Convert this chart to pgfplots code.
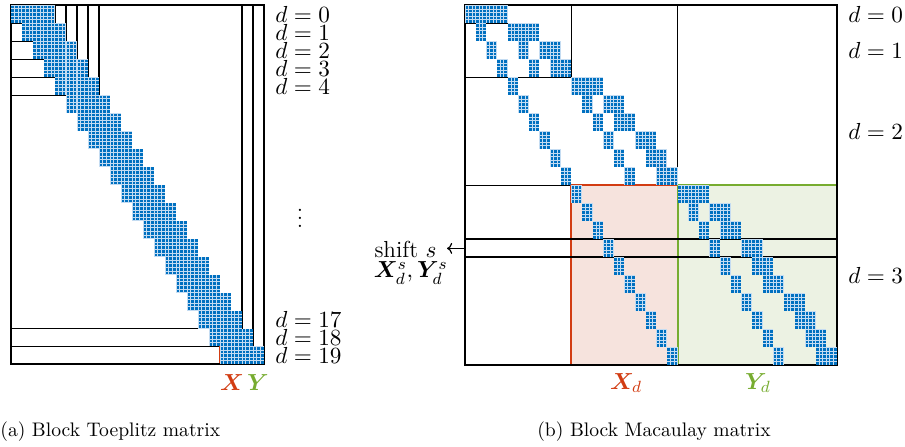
\RequirePackage{fix-cm}
\documentclass[border=0pt]{standalone}
\usepackage{amsmath,bm}
\usepackage{pgfplots}
\pgfplotsset{compat=1.18}
\usetikzlibrary{arrows.meta}

\definecolor{spyblue}{RGB}{0,112,192}
\definecolor{spylight}{RGB}{196,220,242}
\definecolor{xred}{RGB}{210,60,18}
\definecolor{ygreen}{RGB}{119,172,48}
\definecolor{xfill}{RGB}{246,227,221}
\definecolor{yfill}{RGB}{236,242,227}

% One nonzero sub-block of the spy plot, drawn from its top-left corner:
% a light cell holding a 3 x 5 grid of small filled squares.
\newcommand\cellgrid[4]{% cell width, cell height, square width, square height
  \pgfmathsetmacro\cw{#1}\pgfmathsetmacro\ch{#2}%
  \pgfsetfillcolor{spylight}%
  \pgfpathrectangle{\pgfpoint{0pt}{0pt}}{\pgfpoint{3*\cw pt}{-5*\ch pt}}%
  \pgfusepathqfill
  \pgfsetfillcolor{spyblue}%
  \foreach \i in {0,1,2}{\foreach \j in {0,...,4}{%
    \pgfpathrectangle{\pgfpoint{\i*\cw pt+0.25pt}{-\j*\ch pt-#4pt-0.25pt}}{\pgfpoint{#3pt}{#4pt}}%
    \pgfusepathqfill}}}
\pgfdeclareplotmark{cellA}{\cellgrid{1.8333}{1.795}{1.3333}{1.295}}
\pgfdeclareplotmark{cellB}{\cellgrid{1.7714}{1.8}{1.2714}{1.3}}

\pgfplotsset{
  spymat/.style={scale only axis, axis on top, clip=false,
    xtick=\empty, ytick=\empty, axis line style={line width=1pt},
    y dir=reverse, xmin=0, ymin=0, anchor=origin},
}
\tikzset{lbl/.style={font=\fontsize{11.6}{13}\selectfont},
  dl/.style={lbl, anchor=west, inner sep=0pt}}

\begin{document}
\begin{tikzpicture}[x=0.5pt,y=-0.5pt]
\useasboundingbox (0,0) rectangle (905,446);

% ---------- (a) block Toeplitz matrix ----------
\begin{axis}[spymat, at={(10,3)},
  x=5.5pt, y=8.975pt, xmax=23, ymax=20]
  \addplot[fill=xfill, draw=none] coordinates {(19,19) (22,19) (22,20) (19,20)} -- cycle;
  \addplot[fill=yfill, draw=none] coordinates {(22,19) (23,19) (23,20) (22,20)} -- cycle;
  \addplot[only marks, mark=cellA, color=spyblue, mark options={fill=spyblue}] coordinates {
    (0,0) (1,0) (2,0) (3,0)
    (1,1) (2,1) (3,1) (4,1)
    (2,2) (3,2) (4,2) (5,2)
    (3,3) (4,3) (5,3) (6,3)
    (4,4) (5,4) (6,4) (7,4)
    (5,5) (6,5) (7,5) (8,5)
    (6,6) (7,6) (8,6) (9,6)
    (7,7) (8,7) (9,7) (10,7)
    (8,8) (9,8) (10,8) (11,8)
    (9,9) (10,9) (11,9) (12,9)
    (10,10) (11,10) (12,10) (13,10)
    (11,11) (12,11) (13,11) (14,11)
    (12,12) (13,12) (14,12) (15,12)
    (13,13) (14,13) (15,13) (16,13)
    (14,14) (15,14) (16,14) (17,14)
    (15,15) (16,15) (17,15) (18,15)
    (16,16) (17,16) (18,16) (19,16)
    (17,17) (18,17) (19,17) (20,17)
    (18,18) (19,18) (20,18) (21,18)
    (19,19) (20,19) (21,19) (22,19)
  };
  % nested degree blocks
  \draw[line width=0.6pt] (axis cs:0,0) rectangle (axis cs:4,1);
  \draw[line width=0.6pt] (axis cs:0,0) rectangle (axis cs:5,2);
  \draw[line width=0.6pt] (axis cs:0,0) rectangle (axis cs:6,3);
  \draw[line width=0.6pt] (axis cs:0,0) rectangle (axis cs:7,4);
  \draw[line width=0.6pt] (axis cs:0,0) rectangle (axis cs:8,5);
  \draw[line width=0.6pt] (axis cs:0,0) rectangle (axis cs:21,18);
  \draw[line width=0.6pt] (axis cs:0,0) rectangle (axis cs:22,19);
  \draw[xred, line width=0.8pt] (axis cs:19,19) rectangle (axis cs:22,20);
  \draw[ygreen, line width=0.8pt] (axis cs:22,19) rectangle (axis cs:23,20);
  \node[dl, xshift=5.5pt] at (axis cs:23,0.5) {$d=0$};
  \node[dl, xshift=5.5pt] at (axis cs:23,1.5) {$d=1$};
  \node[dl, xshift=5.5pt] at (axis cs:23,2.5) {$d=2$};
  \node[dl, xshift=5.5pt] at (axis cs:23,3.5) {$d=3$};
  \node[dl, xshift=5.5pt] at (axis cs:23,4.5) {$d=4$};
  \node[dl, xshift=5.5pt] at (axis cs:23,17.5) {$d=17$};
  \node[dl, xshift=5.5pt] at (axis cs:23,18.5) {$d=18$};
  \node[dl, xshift=5.5pt] at (axis cs:23,19.5) {$d=19$};
\end{axis}
\node[lbl] at (300,212) {$\vdots$};
\node[lbl, text=xred] at (232,383) {$\bm{X}$};
\node[lbl, text=ygreen] at (258,383) {$\bm{Y}$};
\node[font=\fontsize{9.8}{12}\selectfont, anchor=west, inner sep=0pt] at (0,432) {(a) Block Toeplitz matrix};

% ---------- (b) block Macaulay matrix ----------
\begin{axis}[spymat, at={(437.5,3)},
  x=5.3143pt, y=9pt, xmax=35, ymax=20]
  \addplot[fill=xfill, draw=none] coordinates {(10,10) (20,10) (20,20) (10,20)} -- cycle;
  \addplot[fill=yfill, draw=none] coordinates {(20,10) (35,10) (35,20) (20,20)} -- cycle;
  \addplot[only marks, mark=cellB, color=spyblue, mark options={fill=spyblue}] coordinates {
    (0,0) (1,0) (2,0) (3,0)
    (1,1) (4,1) (5,1) (6,1)
    (2,2) (5,2) (7,2) (8,2)
    (3,3) (6,3) (8,3) (9,3)
    (4,4) (10,4) (11,4) (12,4)
    (5,5) (11,5) (13,5) (14,5)
    (6,6) (12,6) (14,6) (15,6)
    (7,7) (13,7) (16,7) (17,7)
    (8,8) (14,8) (17,8) (18,8)
    (9,9) (15,9) (18,9) (19,9)
    (10,10) (20,10) (21,10) (22,10)
    (11,11) (21,11) (23,11) (24,11)
    (12,12) (22,12) (24,12) (25,12)
    (13,13) (23,13) (26,13) (27,13)
    (14,14) (24,14) (27,14) (28,14)
    (15,15) (25,15) (28,15) (29,15)
    (16,16) (26,16) (30,16) (31,16)
    (17,17) (27,17) (31,17) (32,17)
    (18,18) (28,18) (32,18) (33,18)
    (19,19) (29,19) (33,19) (34,19)
  };
  \draw[line width=0.6pt] (axis cs:0,0) rectangle (axis cs:4,1);
  \draw[line width=0.6pt] (axis cs:0,0) rectangle (axis cs:10,4);
  \draw[line width=0.6pt] (axis cs:0,0) rectangle (axis cs:20,10);
  \draw[xred, line width=1pt] (axis cs:10,10) rectangle (axis cs:20,20);
  \draw[ygreen, line width=1pt] (axis cs:20,10) rectangle (axis cs:35,20);
  \draw[line width=1pt] (axis cs:0,13) rectangle (axis cs:35,14);
  \draw[-{Computer Modern Rightarrow[length=2.6pt,width=5.5pt]}, line width=0.6pt] (axis cs:0,13.5) -- ++(-9pt,0pt);
  \node[dl, xshift=5.5pt] at (axis cs:35,0.5) {$d=0$};
  \node[dl, xshift=5.5pt] at (axis cs:35,2.5) {$d=1$};
  \node[dl, xshift=5.5pt] at (axis cs:35,7) {$d=2$};
  \node[dl, xshift=5.5pt] at (axis cs:35,15) {$d=3$};
\end{axis}
\node[lbl, anchor=east, inner sep=0pt] at (437,249) {shift $s$};
\node[lbl, anchor=east, inner sep=0pt] at (448,273) {$\bm{X}_d^s,\bm{Y}_d^s$};
\node[lbl, text=xred] at (626,383) {$\bm{X}_d$};
\node[lbl, text=ygreen] at (758,383) {$\bm{Y}_d$};
\node[font=\fontsize{9.8}{12}\selectfont] at (654,432) {(b) Block Macaulay matrix};
\end{tikzpicture}
\end{document}
